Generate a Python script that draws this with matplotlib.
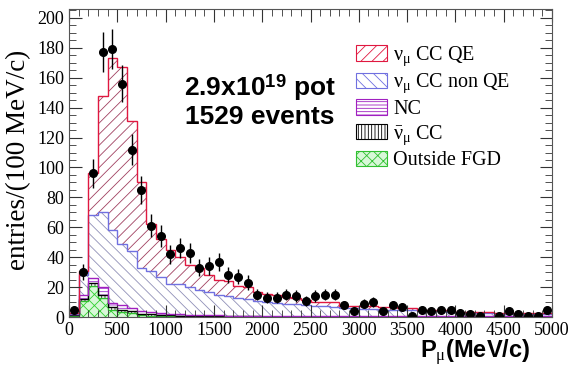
import numpy as np
import matplotlib
matplotlib.use('Agg')
import matplotlib.pyplot as plt
from matplotlib.patches import Patch
from matplotlib.ticker import MultipleLocator

plt.rcParams['font.family'] = ['Liberation Serif', 'DejaVu Serif']
plt.rcParams['mathtext.fontset'] = 'custom'
plt.rcParams['mathtext.rm'] = 'Liberation Serif'
plt.rcParams['mathtext.it'] = 'Liberation Serif:italic'
plt.rcParams['mathtext.bf'] = 'Liberation Sans:bold'
plt.rcParams['hatch.linewidth'] = 0.6

# 100 MeV/c bins from 0 to 5000
edges = np.arange(0, 5001, 100)
centers = edges[:-1] + 50

# data counts per bin (nan = no point drawn)
data = [5, 30, 96, 177, 179, 156, 112, 85, 61, 54,
        42, 46, 43, 33, 34, 37, 28, 27, 23, 15,
        13, 13, 15, 14, 11, 14, 15, 15, 8, 4,
        9, 10, 4, 8, 7, 1, 5, 4, 5, 5,
        3, 2, 1, np.nan, 1, 4, 2, 1, 1, 5]

# stacked MC, cumulative tops of each component (bottom to top)
outside_top = [1, 11, 21, 13, 5, 3.5, 3, 1.5, 1, 0.8,
               0.6, 0.5, 0.4, 0.3, 0.3, 0.2, 0.2, 0.2, 0.1, 0.1,
               0.1, 0.1, 0.1, 0.1, 0.1, 0.1, 0.1, 0.1, 0.1, 0.1,
               0.1, 0.1, 0.1, 0.1, 0.1, 0.1, 0.1, 0.1, 0.1, 0.1,
               0.1, 0.1, 0.1, 0.1, 0.1, 0.1, 0.1, 0.1, 0.1, 0.1]
antinu_top = [1.3, 12, 22.5, 15, 6.5, 4.7, 4, 2.3, 1.7, 1.4,
              1.1, 1.0, 0.8, 0.7, 0.6, 0.5, 0.5, 0.5, 0.4, 0.4,
              0.3, 0.3, 0.3, 0.3, 0.3, 0.3, 0.3, 0.3, 0.3, 0.3,
              0.3, 0.3, 0.3, 0.3, 0.3, 0.3, 0.3, 0.3, 0.3, 0.3,
              0.3, 0.3, 0.3, 0.3, 0.3, 0.3, 0.3, 0.3, 0.3, 0.3]
nc_top = [1.8, 14.5, 26, 20, 9.5, 8.2, 6, 3.8, 3.2, 2.6,
          2.1, 1.9, 1.6, 1.4, 1.2, 1.1, 1.0, 1.0, 0.8, 0.7,
          0.7, 0.6, 0.6, 0.6, 0.6, 0.6, 0.6, 0.6, 0.6, 0.6,
          0.5, 0.5, 0.5, 0.5, 0.5, 0.5, 0.5, 0.5, 0.5, 0.5,
          0.5, 0.5, 0.5, 0.5, 0.5, 0.5, 0.5, 0.5, 0.5, 0.5]
nonqe_top = [2, 28, 68, 70, 58, 49, 44, 33, 31, 27,
             22, 22, 20, 18, 17, 15, 14, 13, 12, 11,
             10, 9.5, 9, 8.5, 8, 7.5, 7.5, 7, 6, 6,
             5.5, 5.5, 5, 5, 4.5, 4.5, 4, 4, 4, 3.5,
             3, 3, 3, 3, 2.2, 2, 2, 2, 2, 2]
total = [3, 31, 96, 148, 173, 167, 131, 90, 62, 52,
         45, 40, 35, 33, 28, 25, 24, 21, 20, 17,
         15.5, 14.5, 13.5, 12.5, 11.5, 10, 10, 10, 7.5, 7.5,
         7.5, 7.5, 6.5, 6.5, 6, 6, 5, 5, 5, 5,
         3.6, 3.6, 3.6, 3.6, 2.5, 2.5, 2.5, 2.5, 2.5, 2.5]

labels = [r'$\mathrm{\nu_{\mu}}$ CC QE', r'$\mathrm{\nu_{\mu}}$ CC non QE', 'NC',
          r'$\mathrm{\bar{\nu}_{\mu}}$ CC', 'Outside FGD']

fig = plt.figure(figsize=(5.75, 3.74), dpi=100)
ax = fig.add_axes([69/575, 1 - 317/374, (552 - 69)/575, (317 - 9)/374])

zeros = np.zeros(len(total))
# (top, baseline, hatch, hatch colour, outline colour, face)
layers = [
    (outside_top, zeros, 'xxx', '#30d030', '#30c030', '#d8f8d8'),
    (antinu_top, outside_top, '|||||', '#202020', '#000000', 'none'),
    (nc_top, antinu_top, '-----', '#a030d0', '#a020c0', 'none'),
    (nonqe_top, nc_top, '\\\\\\', '#9090b8', '#7070e0', 'none'),
    (total, nonqe_top, '///', '#a04060', '#e01840', 'none'),
]
for top, base, hatch, hcol, lcol, face in layers:
    ax.stairs(top, edges, baseline=base, fill=True, hatch=hatch,
              facecolor=face, edgecolor=hcol, linewidth=0)
for top, base, hatch, hcol, lcol, face in layers:
    ax.stairs(top, edges, baseline=None, color=lcol, linewidth=1.0)

data = np.array(data, dtype=float)
ax.errorbar(centers, data, yerr=np.sqrt(data), fmt='o', color='black',
            markersize=5.5, elinewidth=1.0, capsize=0)

ax.set_xlim(0, 5000)
ax.set_ylim(0, 206)
ax.xaxis.set_major_locator(MultipleLocator(500))
ax.xaxis.set_minor_locator(MultipleLocator(100))
ax.yaxis.set_major_locator(MultipleLocator(20))
ax.yaxis.set_minor_locator(MultipleLocator(5))
ax.tick_params(which='both', direction='in', top=True, right=True,
               labelsize=13, color='#333333')
ax.tick_params(which='major', length=9)
ax.tick_params(which='minor', length=5)
for s in ax.spines.values():
    s.set_color('#555555')

ax.set_ylabel('entries/(100 MeV/c)', fontsize=19.5, labelpad=0)
ax.yaxis.set_label_coords(-0.078, 0.51)
ax.text(0.954, -0.114, r'P$_{\mathrm{\mu}}$(MeV/c)', transform=ax.transAxes,
        ha='right', va='center', fontsize=17, fontweight='bold',
        family='Liberation Sans')

ax.text(0.395, 0.745, r'2.9x10$^{\mathbf{19}}$ pot', transform=ax.transAxes,
        ha='center', va='center', fontsize=19, fontweight='bold',
        family='Liberation Sans')
ax.text(0.395, 0.649, '1529 events', transform=ax.transAxes,
        ha='center', va='center', fontsize=19, fontweight='bold',
        family='Liberation Sans')

handles = [Patch(facecolor=f, edgecolor=h, hatch=ht, linewidth=0.8)
           for (_, _, ht, h, l, f) in layers[::-1]]
for hnd, (_, _, ht, h, l, f) in zip(handles, layers[::-1]):
    hnd.set_edgecolor(l)
ax.legend(handles, labels, loc='upper left', bbox_to_anchor=(0.594, 0.885),
          frameon=False, fontsize=14.5, handlelength=1.55, handleheight=0.8,
          labelspacing=0.2, handletextpad=0.3, borderaxespad=0,
          borderpad=0)

plt.savefig('out.png', dpi=100)
